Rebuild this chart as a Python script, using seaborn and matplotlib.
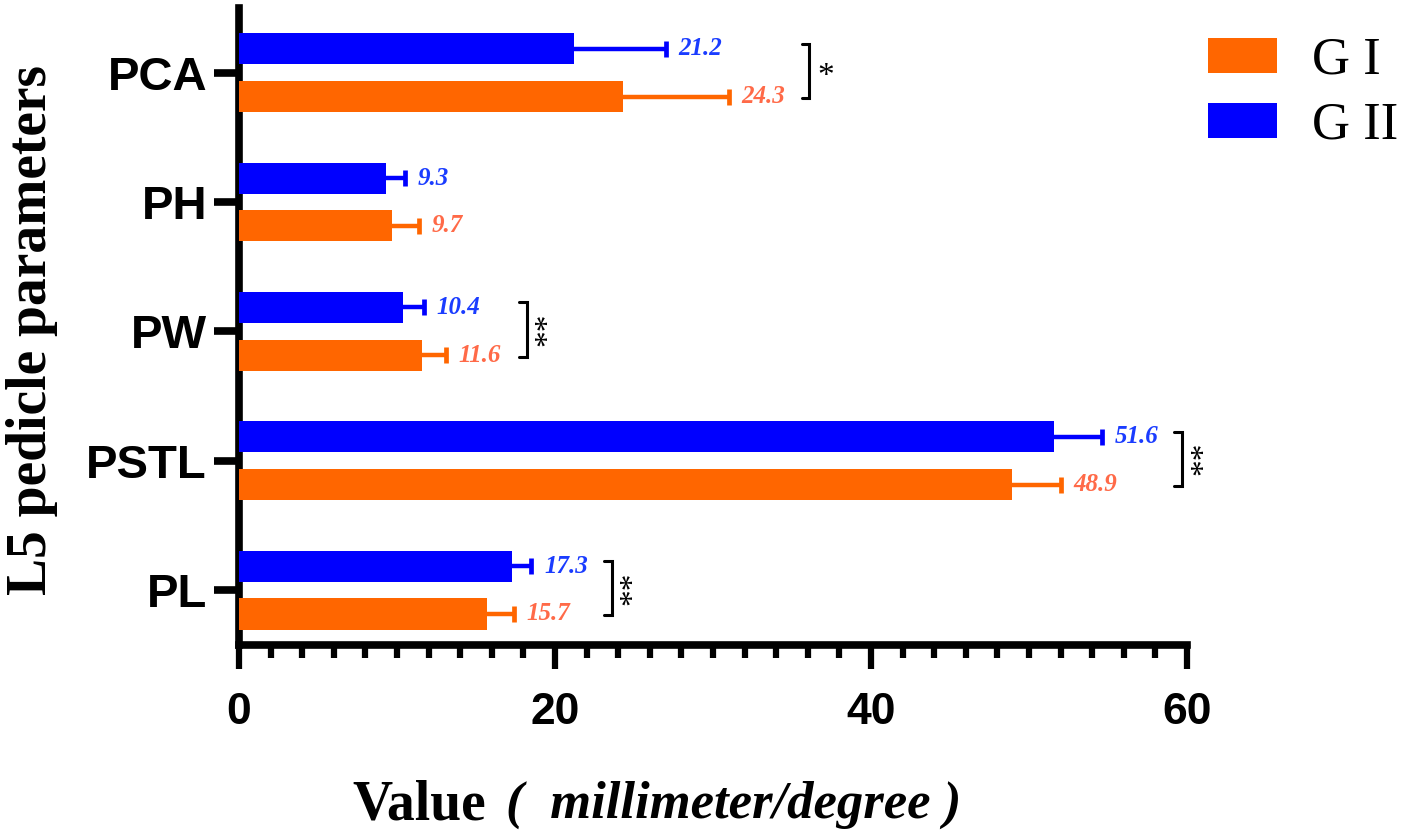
"""L5 pedicle parameters, G I vs G II, horizontal grouped bars with SD whiskers."""
import numpy as np
import pandas as pd
import matplotlib
matplotlib.use('Agg')
import matplotlib.pyplot as plt
from matplotlib.patches import Patch
from matplotlib.ticker import MultipleLocator
import seaborn as sns

params = ['PCA', 'PH', 'PW', 'PSTL', 'PL']
g1_mean = [24.3, 9.7, 11.6, 48.9, 15.7]
g1_sd = [6.7, 1.7, 1.5, 3.1, 1.7]
g2_mean = [21.2, 9.3, 10.4, 51.6, 17.3]
g2_sd = [5.8, 1.2, 1.3, 3.0, 1.2]
signif = ['*', '', '**', '**', '**']
groups = ['G I', 'G II']

bar_colors = {'G I': '#ff6600', 'G II': '#0000ff'}
text_colors = {'G I': '#ff6a48', 'G II': '#1a3cff'}
SERIF = ['Liberation Serif', 'DejaVu Serif']
SANS = ['Liberation Sans', 'DejaVu Sans']

sns.set_style('ticks')
plt.rcParams['font.family'] = SANS
plt.rcParams.update({'axes.edgecolor': 'black', 'xtick.color': 'black', 'ytick.color': 'black',
                     'text.color': 'black', 'axes.labelcolor': 'black'})

df = pd.DataFrame({
    'param': params * 2,
    'group': ['G I'] * len(params) + ['G II'] * len(params),
    'value': g1_mean + g2_mean,
})
stats = {'G I': (g1_mean, g1_sd), 'G II': (g2_mean, g2_sd)}
hue_order = ['G II', 'G I']  # G II drawn on top in each pair

fig = plt.figure(figsize=(14.15, 8.33), dpi=100)
ax = fig.add_axes([0.1689, 0.2257, 0.670, 0.7647])

sns.barplot(data=df, x='value', y='param', hue='group', order=params, hue_order=hue_order,
            palette=bar_colors, orient='h', width=0.74, gap=0.35, saturation=1,
            errorbar=None, legend=False, ax=ax, zorder=3, linewidth=0)

centers = {}
for cont, grp in zip(ax.containers, hue_order):
    means, sds = stats[grp]
    ys = np.array([b.get_y() + b.get_height() / 2 for b in cont])
    centers[grp] = ys
    eb = ax.errorbar(means, ys, xerr=[np.zeros(len(means)), sds], fmt='none',
                     ecolor=bar_colors[grp], elinewidth=3.2, capsize=6, capthick=3.4, zorder=2)
    for cl in eb.lines[1]:
        if np.allclose(cl.get_xdata(), means):
            cl.set_visible(False)
    for m, s, y in zip(means, sds, ys):
        ax.text(m + s + 0.8, y, f'{m:.1f}', ha='left', va='center', fontsize=18,
                fontweight='bold', style='italic', color=text_colors[grp], family=SERIF)

# significance brackets
for i, sig in enumerate(signif):
    if not sig:
        continue
    end = max(g1_mean[i] + g1_sd[i], g2_mean[i] + g2_sd[i])
    xb = end + 5.1
    y_top = centers['G II'][i] - 0.04
    y_bot = centers['G I'][i] + 0.01
    ax.plot([xb - 0.5, xb, xb, xb - 0.5], [y_top, y_top, y_bot, y_bot], color='black',
            lw=2.2, clip_on=False, solid_joinstyle='miter')
    ymid = (y_top + y_bot) / 2
    if len(sig) > 1:
        ax.text(xb + 0.4, ymid, sig, rotation=90, ha='left', va='center', fontsize=24,
                family=SERIF, clip_on=False)
    else:
        ax.text(xb + 0.5, ymid + 0.05, sig, ha='left', va='center', fontsize=24,
                family=SERIF, clip_on=False)

ax.set_xlim(0, 60)
ax.set_ylim(4.425, -0.5)
ax.xaxis.set_major_locator(MultipleLocator(20))
ax.xaxis.set_minor_locator(MultipleLocator(2))
sns.despine(ax=ax)
for side in ['left', 'bottom']:
    ax.spines[side].set_linewidth(5.5)
ax.tick_params(axis='y', length=18, width=5.5, pad=5, labelsize=34)
ax.tick_params(axis='x', which='major', length=17, width=4.5, pad=17, labelsize=32)
ax.tick_params(axis='x', which='minor', length=9, width=4.5)
for lbl in ax.get_yticklabels() + ax.get_xticklabels():
    lbl.set_fontweight('bold')
ax.set_xlabel('')
ax.set_ylabel('L5 pedicle parameters', fontsize=40, fontweight='bold', family=SERIF)
ax.yaxis.label.set_va('center')
ax.yaxis.set_label_coords(-0.218, 0.494)

fig.text(352 / 1415, 1 - 805 / 833, 'Value', ha='left', va='center', fontsize=40,
         fontweight='bold', family=SERIF)
fig.text(506 / 1415, 1 - 805 / 833, '(  millimeter/degree )', ha='left', va='center',
         fontsize=38, fontweight='bold', style='italic', family=SERIF)

handles = [Patch(facecolor=bar_colors[g], edgecolor='none') for g in groups]
fig.legend(handles=handles, labels=groups, loc='upper left', bbox_to_anchor=(1208 / 1415, 1 - 37 / 833),
           frameon=False, prop={'family': SERIF, 'size': 38}, handlelength=1.3, handleheight=0.64,
           handletextpad=0.68, labelspacing=0.32, borderpad=0, borderaxespad=0)

fig.savefig('out.png', dpi=100)
